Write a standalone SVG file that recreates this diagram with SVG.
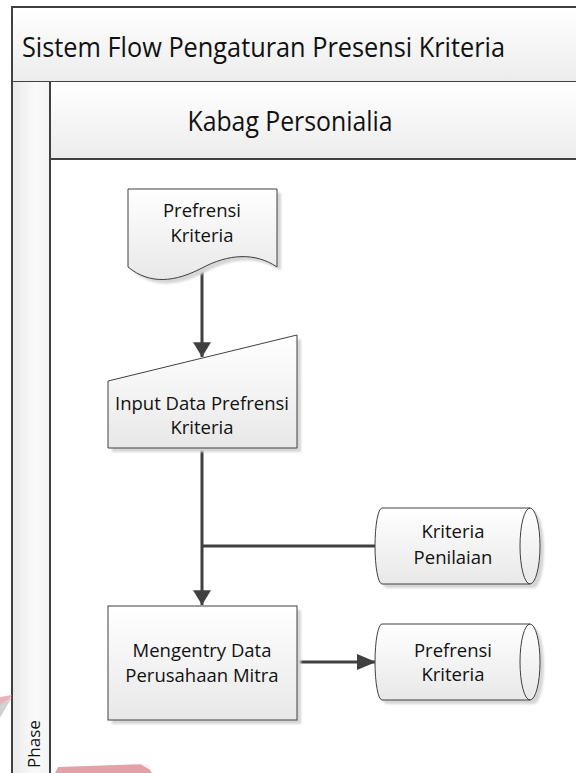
<svg xmlns="http://www.w3.org/2000/svg" width="576" height="773" viewBox="0 0 576 773">
  <defs>
    <style>
      .frame { stroke: #404040; stroke-width: 2; }
      .shape { fill: url(#shapeFill); stroke: #404040; stroke-width: 1; }
      .shadow { fill: #d6d6d6; filter: url(#soft); }
      .label { font-family: "Open Sans", "Liberation Sans", sans-serif; font-size: 18.5px; fill: #111; text-anchor: middle; }
      .band { font-family: "Open Sans", "Liberation Sans", sans-serif; font-size: 28px; fill: #111; }
      .flow { fill: none; stroke: #404040; stroke-width: 3; }
    </style>
    <linearGradient id="shapeFill" x1="0" y1="0" x2="0" y2="1">
      <stop offset="0" stop-color="#ffffff"/>
      <stop offset="1" stop-color="#e8e8e8"/>
    </linearGradient>
    <linearGradient id="bandFill" x1="0" y1="0" x2="0" y2="1">
      <stop offset="0" stop-color="#ffffff"/>
      <stop offset="1" stop-color="#ececec"/>
    </linearGradient>
    <linearGradient id="phaseFill" x1="0" y1="0" x2="1" y2="0">
      <stop offset="0" stop-color="#e9e9e9"/>
      <stop offset="0.6" stop-color="#fafafa"/>
      <stop offset="1" stop-color="#f4f4f4"/>
    </linearGradient>
    <filter id="soft" x="-10%" y="-10%" width="120%" height="120%">
      <feGaussianBlur stdDeviation="1"/>
    </filter>
    <marker id="headBig" markerUnits="userSpaceOnUse" markerWidth="22" markerHeight="18" viewBox="0 0 18 22" refX="18" refY="11" orient="auto">
      <path d="M0,0 L18,11 L0,22 Z" fill="#404040"/>
    </marker>
    <marker id="headSmall" markerUnits="userSpaceOnUse" markerWidth="19" markerHeight="16" viewBox="0 0 19 16" refX="19" refY="8" orient="auto">
      <path d="M0,0 L19,8 L0,16 Z" fill="#404040"/>
    </marker>
  </defs>

  <rect width="576" height="773" fill="#ffffff"/>

  <!-- pool title band -->
  <g id="pool">
    <rect x="12" y="7" width="570" height="75" fill="url(#bandFill)"/>
    <path class="frame" d="M12,782 V7 H582 M12,82 H582" fill="none"/>
    <text class="band" x="22" y="57" textLength="483" lengthAdjust="spacingAndGlyphs">Sistem Flow Pengaturan Presensi Kriteria</text>
  </g>

  <!-- lane header and phase column -->
  <g id="lane">
    <rect x="12" y="82" width="38" height="700" fill="url(#phaseFill)"/>
    <rect x="50" y="82" width="532" height="77" fill="url(#bandFill)"/>
    <path class="frame" d="M12,82 V782 M50,82 V782 M50,159 H582" fill="none"/>
    <text class="band" x="290" y="131" text-anchor="middle" textLength="205" lengthAdjust="spacingAndGlyphs">Kabag Personialia</text>
  </g>

  <g id="phase">
    <text class="label" transform="translate(40,744) rotate(-90)" style="font-size:17px">Phase</text>
  </g>

  <!-- faint watermark pieces -->
  <g id="watermark" opacity="0.85">
    <polygon points="0,697 12,695 0,713" fill="#e8a6ab"/>
    <polygon points="0,705 12,697 0,718" fill="#c9c9c9"/>
    <polygon points="55,773 58,767 146,764 152,773" fill="#df9199"/>
    <polygon points="140,764 148,764 152,771" fill="#f3f3f3"/>
  </g>

  <!-- connectors -->
  <g id="connectors">
    <path class="flow" d="M202,268 V357" marker-end="url(#headBig)"/>
    <path class="flow" d="M202,448 V605" marker-end="url(#headBig)"/>
    <path class="flow" d="M202,546 H376"/>
    <path class="flow" d="M297,662 H376" stroke-width="2.5" marker-end="url(#headSmall)"/>
  </g>

  <!-- document: Prefrensi Kriteria -->
  <g id="doc-prefrensi">
    <path class="shadow" transform="translate(4,4)" d="M128,189 H277 V267 C255,252 228,254 202,268 C175,282 150,285 128,267 Z"/>
    <path class="shape" d="M128,189 H277 V267 C255,252 228,254 202,268 C175,282 150,285 128,267 Z"/>
    <text class="label" x="202" y="217">Prefrensi</text>
    <text class="label" x="202" y="242">Kriteria</text>
  </g>

  <!-- manual input: Input Data Prefrensi Kriteria -->
  <g id="input-data">
    <polygon class="shadow" transform="translate(4,4)" points="108,381 297,335 297,448 108,448"/>
    <polygon class="shape" points="108,381 297,335 297,448 108,448"/>
    <text class="label" x="202" y="410">Input Data Prefrensi</text>
    <text class="label" x="202" y="434">Kriteria</text>
  </g>

  <!-- stored data: Kriteria Penilaian -->
  <g id="store-penilaian">
    <path class="shadow" transform="translate(4,4)" d="M382,508 H530 A10,38 0 0 1 530,584 H382 A7,38 0 0 1 382,508 Z"/>
    <path class="shape" d="M382,508 H530 A10,38 0 0 1 530,584 H382 A7,38 0 0 1 382,508 Z"/>
    <path d="M530,508 A10,38 0 0 0 530,584" fill="none" stroke="#404040" stroke-width="1"/>
    <text class="label" x="453" y="538">Kriteria</text>
    <text class="label" x="453" y="564">Penilaian</text>
  </g>

  <!-- process: Mengentry Data Perusahaan Mitra -->
  <g id="mengentry">
    <rect class="shadow" x="112" y="610" width="189" height="114"/>
    <rect class="shape" x="108" y="606" width="189" height="114"/>
    <text class="label" x="202" y="657">Mengentry Data</text>
    <text class="label" x="202" y="682">Perusahaan Mitra</text>
  </g>

  <!-- stored data: Prefrensi Kriteria -->
  <g id="store-prefrensi">
    <path class="shadow" transform="translate(4,4)" d="M382,624 H530 A10,38 0 0 1 530,700 H382 A7,38 0 0 1 382,624 Z"/>
    <path class="shape" d="M382,624 H530 A10,38 0 0 1 530,700 H382 A7,38 0 0 1 382,624 Z"/>
    <path d="M530,624 A10,38 0 0 0 530,700" fill="none" stroke="#404040" stroke-width="1"/>
    <text class="label" x="453" y="657">Prefrensi</text>
    <text class="label" x="453" y="681">Kriteria</text>
  </g>
</svg>
